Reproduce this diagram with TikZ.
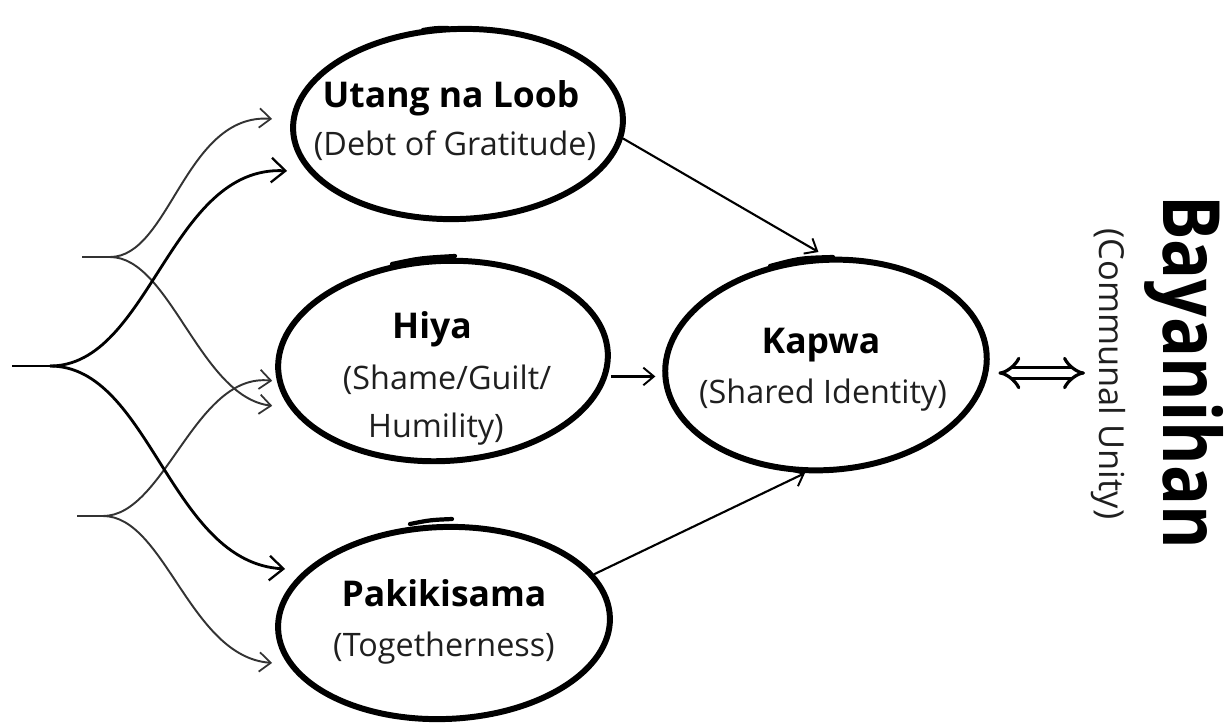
\documentclass[tikz,border=0pt]{standalone}
\usepackage{fontspec}
\setmainfont{Open Sans}
\usetikzlibrary{arrows.meta,shapes.geometric}
\begin{document}
\begin{tikzpicture}[x=0.02cm,y=-0.02cm,
  blob/.style={draw, ellipse, line width=3.4pt, inner sep=0pt},
  tail/.style={line width=2.4pt, line cap=round},
  ttl/.style={anchor=base, inner sep=0pt, font=\fontsize{20.2}{24}\selectfont\bfseries},
  sub/.style={anchor=base, inner sep=0pt, text=black!88, font=\fontsize{18.4}{22}\selectfont},
  thickc/.style={line width=1.6pt, black, -{Straight Barb[length=8pt,width=14pt,line width=1.3pt]}},
  thinc/.style={line width=1.1pt, black!80, -{Straight Barb[length=6.5pt,width=11pt,line width=1pt]}},
  stem/.style={line width=1.6pt, black},
  thinstem/.style={line width=1.1pt, black!80},
  link/.style={line width=1.2pt, -{Straight Barb[length=6pt,width=10pt,line width=1.1pt]}},
  dbl/.style={double, double distance=4.5pt, line width=1.8pt, {Implies[length=6pt]}-{Implies[length=6pt]}}
]
\useasboundingbox (0,0) rectangle (1225,725);

% ellipses
\node[blob, minimum width=330*0.02cm, minimum height=190*0.02cm, rotate=2] (utang) at (458,124) {};
\node[blob, minimum width=330*0.02cm, minimum height=200*0.02cm, rotate=3] (hiya) at (443,361) {};
\node[blob, minimum width=332*0.02cm, minimum height=192*0.02cm, rotate=2] (pakik) at (444,623) {};
\node[blob, minimum width=322*0.02cm, minimum height=210*0.02cm, rotate=4] (kapwa) at (826,365) {};

% hand-drawn overlaps
\draw[tail] (423,30) .. controls (435,28) .. (448,28);
\draw[tail] (392,264) .. controls (420,258) .. (455,256);
\draw[tail] (410,524) .. controls (430,520) .. (452,519);
\draw[tail] (770,266) .. controls (800,258) .. (833,257);

% texts
\node[ttl] (tutang) at (451,107) {Utang na Loob};
\node[sub] (sutang) at (455,155) {(Debt of Gratitude)};
\node[ttl] (thiya) at (432,338) {Hiya};
\node[sub] (shiya1) at (447,389) {(Shame/Guilt/};
\node[sub] (shiya2) at (436,437) {Humility)};
\node[ttl] (tpak) at (444,606) {Pakikisama};
\node[sub] (spak) at (444,656) {(Togetherness)};
\node[ttl] (tkap) at (821,353) {Kapwa};
\node[sub] (skap) at (823,403) {(Shared Identity)};

\node[inner sep=0pt, anchor=base, rotate=-90, font=\fontsize{45}{50}\selectfont\bfseries] (bay) at (1163,372) {\scalebox{0.84}[1]{Bayanihan}};
\node[inner sep=0pt, anchor=base, rotate=-90, text=black!88, font=\fontsize{19.6}{22}\selectfont] (comm) at (1099,374) {(Communal Unity)};

% connectors between ellipses
\draw[link] (utang.-7) -- ([yshift=3pt]kapwa.north);
\draw[link] (hiya.east |- kapwa.west) -- ([xshift=-4pt]kapwa.west);
\draw[link] (pakik.16) -- (kapwa.-105);
\coordinate (bayend) at (1085,373);
\draw[dbl] ([xshift=5pt]kapwa.east |- bayend) -- (bayend);

% left fan
\coordinate (s0) at (12,366);
\coordinate (f0) at (50,366);
\coordinate (s1) at (82,257);
\coordinate (f1) at (110,257);
\coordinate (s2) at (77,516);
\coordinate (f2) at (103,516);

\draw[stem] (s0) -- (f0);
\draw[thinstem] (s1) -- (f1);
\draw[thinstem] (s2) -- (f2);

\draw[thinc] (f1) .. controls (170,257) and (185,113) .. ([shift={(-18,-11)}]utang.west);
\draw[thinc] (f1) .. controls (170,257) and (200,397) .. ([shift={(-3,36)}]hiya.west);
\draw[thinc] (f2) .. controls (165,516) and (195,372) .. ([shift={(-3,11)}]hiya.west);
\draw[thinc] (f2) .. controls (165,516) and (190,657) .. ([shift={(-3,34)}]pakik.west);
\draw[thickc] (f0) .. controls (150,366) and (170,165) .. ([shift={(-3,41)}]utang.west);
\draw[thickc] (f0) .. controls (150,366) and (170,563) .. ([shift={(10,-60)}]pakik.west);
\end{tikzpicture}
\end{document}
